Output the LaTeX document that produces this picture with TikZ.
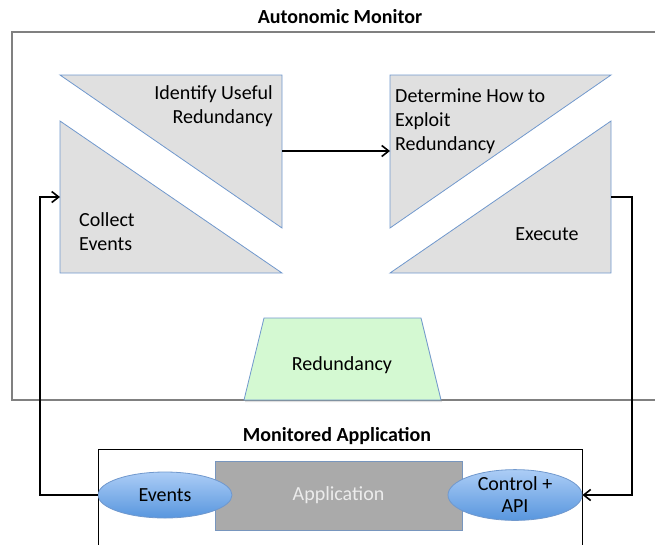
\documentclass[tikz,border=0pt]{standalone}
\usepackage{fontspec}
\setmainfont{Carlito}
\usetikzlibrary{arrows.meta,shapes.geometric,shadows,calc}
\definecolor{bluebd}{RGB}{112,152,205}
\definecolor{trifill}{RGB}{224,224,224}
\definecolor{trapfill}{RGB}{212,249,210}
\definecolor{elltop}{RGB}{172,205,246}
\definecolor{ellbot}{RGB}{88,150,222}
\definecolor{appfill}{RGB}{170,170,170}
\definecolor{appbd}{RGB}{120,150,190}
\definecolor{apptext}{RGB}{236,236,236}
\definecolor{framegray}{RGB}{128,128,128}
\begin{document}
\begin{tikzpicture}[x=1pt,y=-1pt,
  font=\fontsize{20}{24}\selectfont,
  tri/.style={draw=bluebd, fill=trifill, line width=0.8pt, line join=miter},
  trap/.style={draw=bluebd, fill=trapfill, line width=0.8pt,
    drop shadow={shadow xshift=1pt, shadow yshift=-2pt, opacity=0.25}},
  ell/.style={ellipse, draw=bluebd, line width=0.8pt, inner sep=0pt,
    minimum width=134pt, minimum height=46pt, top color=elltop, bottom color=ellbot,
    align=center},
  appbox/.style={rectangle, draw=appbd, line width=1pt, fill=appfill,
    minimum width=247pt, minimum height=69pt, inner sep=0pt, text=apptext},
  conn/.style={draw=black, line width=1.8pt, line join=miter,
    -{Straight Barb[length=7pt,width=11pt,line width=1.6pt]}},
  title/.style={font=\fontsize{20}{24}\selectfont\bfseries},
  lbl/.style={inner sep=0pt}
]
\useasboundingbox (0,0) rectangle (655,544);

% Autonomic monitor frame
\node[title] (amtitle) at (340,17) {Autonomic Monitor};
\draw[framegray, line width=1.5pt] (12,32) rectangle (660,400);

% triangles
\draw[tri] (60,75) -- (282,75) -- (282,228) -- cycle;
\draw[tri] (60,121) -- (60,273) -- (282,273) -- cycle;
\draw[tri] (390,75) -- (611,75) -- (390,228) -- cycle;
\draw[tri] (611,121) -- (611,273) -- (390,273) -- cycle;

\node[lbl, align=right, anchor=east] (identify) at (273,106) {Identify Useful\\Redundancy};
\node[lbl, align=left, anchor=west] (collect) at (79,232) {Collect\\Events};
\node[lbl, align=left, anchor=west] (determine) at (395,121) {Determine How to\\Exploit\\Redundancy};
\node[lbl] (execute) at (547,234) {Execute};

% redundancy trapezoid
\draw[trap] (264,318) -- (421,318) -- (441,400) -- (244,400) -- cycle;
\node[lbl] (redund) at (342,365) {Redundancy};

% connection points
\coordinate (cin) at (60,197);
\coordinate (iout) at (282,151);
\coordinate (din) at (390,151);
\coordinate (eout) at (611,197);
\coordinate (lbus) at (40,0);
\coordinate (rbus) at (632,0);

% monitored application
\node[title] (matitle) at (337,436) {Monitored Application};
\draw[black, line width=1pt] (98,560) -- (98,449) -- (582,449) -- (582,560);
\node[appbox] (app) at (338.5,495.5) {Application};
\node[ell] (events) at (165,495) {Events};
\node[ell] (ctrl) at (515,495) {Control +\\[-2pt]API};

% connectors
\draw[conn] (events.west) -- (events.west -| lbus) |- (cin);
\draw[conn] (iout) -- (din);
\draw[conn] (eout) -- (eout -| rbus) |- (ctrl.east);
\end{tikzpicture}
\end{document}
